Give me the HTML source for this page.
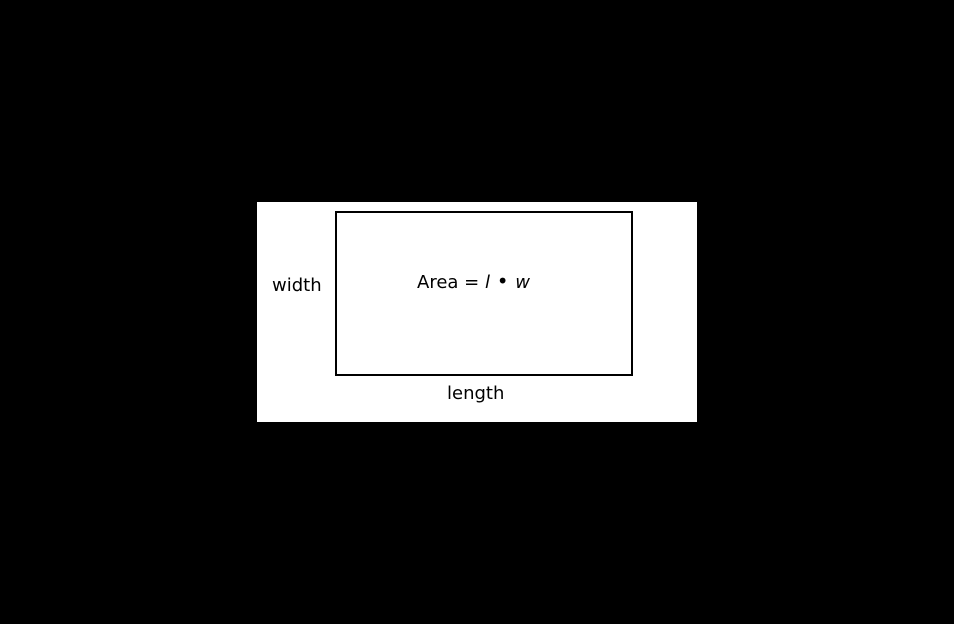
<!DOCTYPE html>
<html><head><meta charset="utf-8"><style>
html,body{margin:0;padding:0;background:#000;width:954px;height:624px;overflow:hidden;font-family:"DejaVu Sans","Liberation Sans",sans-serif;}
#panel{position:absolute;left:257px;top:202px;width:440px;height:220px;background:#fff;}
#rect{position:absolute;left:78px;top:9px;width:294px;height:161px;border:2px solid #000;box-sizing:content-box;}
.t{position:absolute;font-size:18px;color:#000;white-space:nowrap;line-height:1;}
.b{font-size:20px;margin:0 1px;line-height:0;}
</style></head><body>
<div id="panel">
  <div id="rect"></div>
  <div class="t" style="left:15px;top:75px">width</div>
  <div class="t" style="left:160px;top:72px">Area = <i>l</i> <span class="b">•</span> <i>w</i></div>
  <div class="t" style="left:190px;top:183px">length</div>
</div>
</body></html>
